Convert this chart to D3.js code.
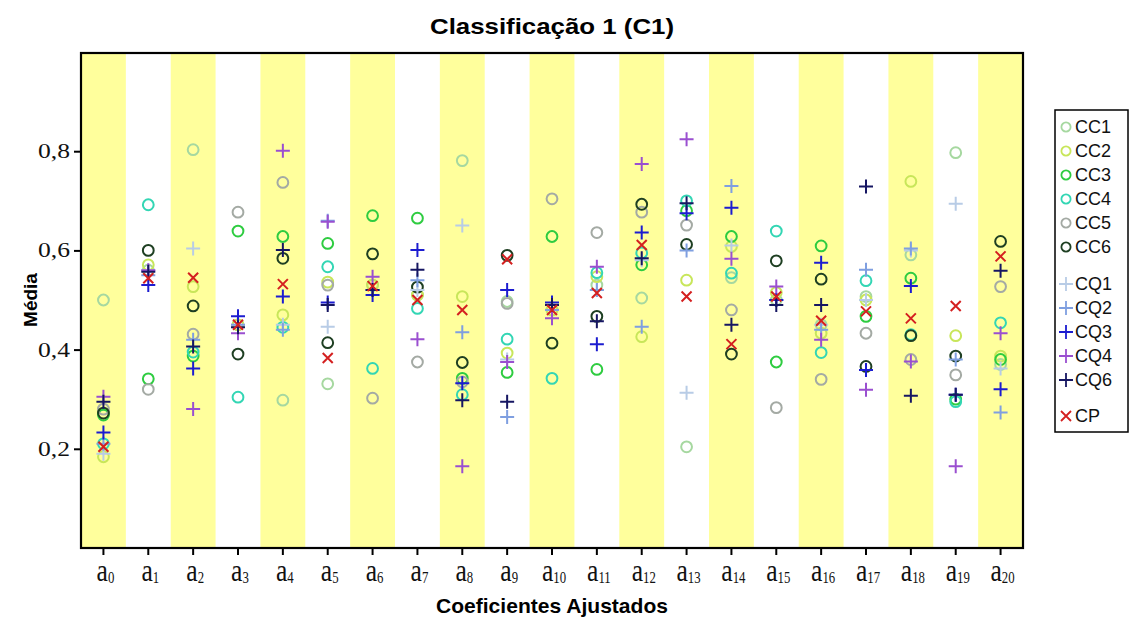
<!DOCTYPE html>
<html><head><meta charset="utf-8">
<script src="https://cdn.jsdelivr.net/npm/d3@7"></script>
<style>
body{margin:0;background:#fff;}
svg{display:block;}
</style></head>
<body><svg id="c" width="1131" height="620"></svg>
<script>
const categories = d3.range(21).map(i => "a" + i);
const yTicks = [0.2, 0.4, 0.6, 0.8];

const CC1 = [0.50,0.56,0.803,0.45,0.298,0.331,0.53,0.51,0.781,0.497,0.48,0.53,0.504,0.204,0.545,0.50,0.45,0.507,0.591,0.797,0.37];
const CC2 = [0.184,0.571,0.527,0.45,0.470,0.536,0.53,0.51,0.507,0.393,0.48,0.547,0.426,0.540,0.608,0.515,0.433,0.50,0.739,0.428,0.387];
const CC3 = [0.268,0.341,0.387,0.639,0.628,0.614,0.670,0.665,0.342,0.354,0.628,0.360,0.571,0.68,0.628,0.375,0.609,0.467,0.544,0.30,0.38];
const CC4 = [0.21,0.692,0.395,0.304,0.445,0.567,0.362,0.483,0.309,0.421,0.342,0.555,0.595,0.70,0.554,0.639,0.394,0.539,0.43,0.295,0.454];
const CC5 = [0.28,0.320,0.431,0.677,0.737,0.53,0.302,0.375,0.335,0.493,0.704,0.636,0.677,0.651,0.480,0.283,0.340,0.433,0.38,0.349,0.527];
const CC6 = [0.272,0.600,0.488,0.391,0.584,0.414,0.593,0.526,0.374,0.59,0.413,0.467,0.693,0.612,0.391,0.579,0.542,0.366,0.428,0.387,0.618];
const CQ1 = [0.19,0.56,0.604,0.45,0.45,0.446,0.52,0.52,0.650,0.38,0.48,0.52,0.58,0.313,0.61,0.50,0.45,0.50,0.60,0.694,0.362];
const CQ2 = [0.21,0.55,0.42,0.45,0.44,0.66,0.52,0.54,0.435,0.264,0.48,0.52,0.446,0.60,0.730,0.50,0.44,0.561,0.604,0.38,0.273];
const CQ3 = [0.233,0.530,0.362,0.467,0.507,0.495,0.510,0.601,0.332,0.520,0.495,0.411,0.636,0.675,0.686,0.50,0.575,0.359,0.528,0.309,0.320];
const CQ4 = [0.305,0.56,0.280,0.433,0.801,0.658,0.547,0.421,0.165,0.375,0.463,0.567,0.774,0.824,0.583,0.527,0.420,0.319,0.376,0.165,0.433];
const CQ6 = [0.295,0.557,0.406,0.445,0.601,0.490,0.52,0.561,0.298,0.295,0.49,0.457,0.584,0.695,0.450,0.490,0.490,0.729,0.307,0.309,0.559];
const CP  = [0.204,0.544,0.545,0.450,0.532,0.383,0.528,0.500,0.480,0.582,0.480,0.514,0.611,0.507,0.411,0.507,0.458,0.477,0.463,0.488,0.588];

const seriesNames = ["CC1","CC2","CC3","CC4","CC5","CC6","CQ1","CQ2","CQ3","CQ4","CQ6","CP"];
const seriesValues = [CC1,CC2,CC3,CC4,CC5,CC6,CQ1,CQ2,CQ3,CQ4,CQ6,CP];
const seriesShapes = ["o","o","o","o","o","o","+","+","+","+","+","x"];
const seriesColors = ["#a6d8a0","#c8e65a","#2ecc40","#33d6b4","#a4aaa4","#1e3f22",
                      "#b8cce6","#7f9fe0","#1c1cd0","#9a4fd0","#161662","#d42020"];

const svg = d3.select("#c");
const L = 81, R = 1023, T = 53, B = 548;
const x = d3.scaleBand().domain(categories).range([L, R]).paddingInner(0).paddingOuter(0);
const y = d3.scaleLinear().domain([0, 1]).range([B, B - 496]);

// stripes
svg.append("g").selectAll("rect").data(categories.filter((d,i)=>i%2===0)).join("rect")
  .attr("x", d => x(d)).attr("y", T).attr("width", x.bandwidth()).attr("height", B - T)
  .attr("fill", "#ffff9c");

// axes
const yAxis = svg.append("g").attr("transform", `translate(${L},0)`)
  .call(d3.axisLeft(y).tickValues(yTicks).tickSize(7).tickFormat(""));
yAxis.select(".domain").remove();
yAxis.selectAll(".tick line").attr("stroke", "#000").attr("stroke-width", 2);
svg.append("g").selectAll("text").data(yTicks).join("text")
  .attr("transform", d => `translate(${L - 11},${y(d) + 7}) scale(1.28,1)`)
  .attr("text-anchor", "end")
  .attr("font-family", "'Liberation Serif','Times New Roman',serif")
  .attr("font-size", 20).attr("fill", "#111")
  .text(d => d3.format(".1f")(d).replace(".", ","));

const xAxis = svg.append("g").attr("transform", `translate(0,${B})`)
  .call(d3.axisBottom(x).tickSize(7).tickFormat(""));
xAxis.select(".domain").remove();
xAxis.selectAll(".tick line").attr("stroke", "#000").attr("stroke-width", 2);
const xl = svg.append("g").selectAll("text").data(categories).join("text")
  .attr("transform", d => `translate(${x(d) + x.bandwidth()/2 + 2},581) scale(0.8,1)`)
  .attr("text-anchor", "middle")
  .attr("font-family", "'Liberation Serif','Times New Roman',serif")
  .attr("fill", "#111");
xl.append("tspan").attr("font-size", 32).text("a");
xl.append("tspan").attr("font-size", 16).attr("dy", 2).text(d => d.slice(1));

// marks
const cx = i => x(categories[i]) + x.bandwidth()/2;
function drawShape(g, shape, color) {
  if (shape === "o") {
    g.append("circle").attr("r", 5.4).attr("fill", "none").attr("stroke", color).attr("stroke-width", 2);
  } else if (shape === "+") {
    g.append("path").attr("d", "M-7,0H7M0,-7V7").attr("stroke", color).attr("stroke-width", 2).attr("fill", "none");
  } else {
    g.append("path").attr("d", "M-5,-5L5,5M-5,5L5,-5").attr("stroke", color).attr("stroke-width", 2).attr("fill", "none");
  }
}
seriesValues.forEach((vals, s) => {
  const g = svg.append("g").attr("class", "series-" + seriesNames[s]);
  vals.forEach((v, i) => {
    const m = g.append("g").attr("transform", `translate(${cx(i)},${y(v)})`);
    drawShape(m, seriesShapes[s], seriesColors[s]);
  });
});

// frame
svg.append("rect").attr("x", L).attr("y", T).attr("width", R - L).attr("height", B - T)
  .attr("fill", "none").attr("stroke", "#000").attr("stroke-width", 2.2);

// titles
svg.append("text").attr("x", 552).attr("y", 34).attr("text-anchor", "middle")
  .attr("font-family", "'Liberation Sans',Arial,sans-serif").attr("font-weight", "bold")
  .attr("font-size", 22).attr("textLength", 244).attr("lengthAdjust", "spacingAndGlyphs")
  .text("Classificação 1 (C1)");
svg.append("text").attr("x", 552).attr("y", 613).attr("text-anchor", "middle")
  .attr("font-family", "'Liberation Sans',Arial,sans-serif").attr("font-weight", "bold")
  .attr("font-size", 21).attr("textLength", 232).attr("lengthAdjust", "spacingAndGlyphs")
  .text("Coeficientes Ajustados");
svg.append("text").attr("transform", "translate(37,300) rotate(-90)").attr("text-anchor", "middle")
  .attr("font-family", "'Liberation Sans',Arial,sans-serif").attr("font-weight", "bold")
  .attr("font-size", 19).text("Média");

// legend
const lg = svg.append("g");
lg.append("rect").attr("x", 1055).attr("y", 110).attr("width", 73).attr("height", 322)
  .attr("fill", "#fff").attr("stroke", "#000").attr("stroke-width", 1.5);
const legendY = [127,151,175,199,223,247,284,308,332,356,380,416];
seriesNames.forEach((n, s) => {
  const m = lg.append("g").attr("transform", `translate(1066,${legendY[s]})`);
  const sh = seriesShapes[s];
  if (sh === "o") m.append("circle").attr("r", 4.6).attr("fill", "none").attr("stroke", seriesColors[s]).attr("stroke-width", 1.8);
  else if (sh === "+") m.append("path").attr("d", "M-7,0H7M0,-7V7").attr("stroke", seriesColors[s]).attr("stroke-width", 1.8);
  else m.append("path").attr("d", "M-5,-5L5,5M-5,5L5,-5").attr("stroke", seriesColors[s]).attr("stroke-width", 1.8);
  lg.append("text").attr("x", 1075).attr("y", legendY[s] + 6)
    .attr("font-family", "'Liberation Sans',Arial,sans-serif").attr("font-size", 18)
    .attr("fill", "#111").text(n);
});
</script></body></html>
